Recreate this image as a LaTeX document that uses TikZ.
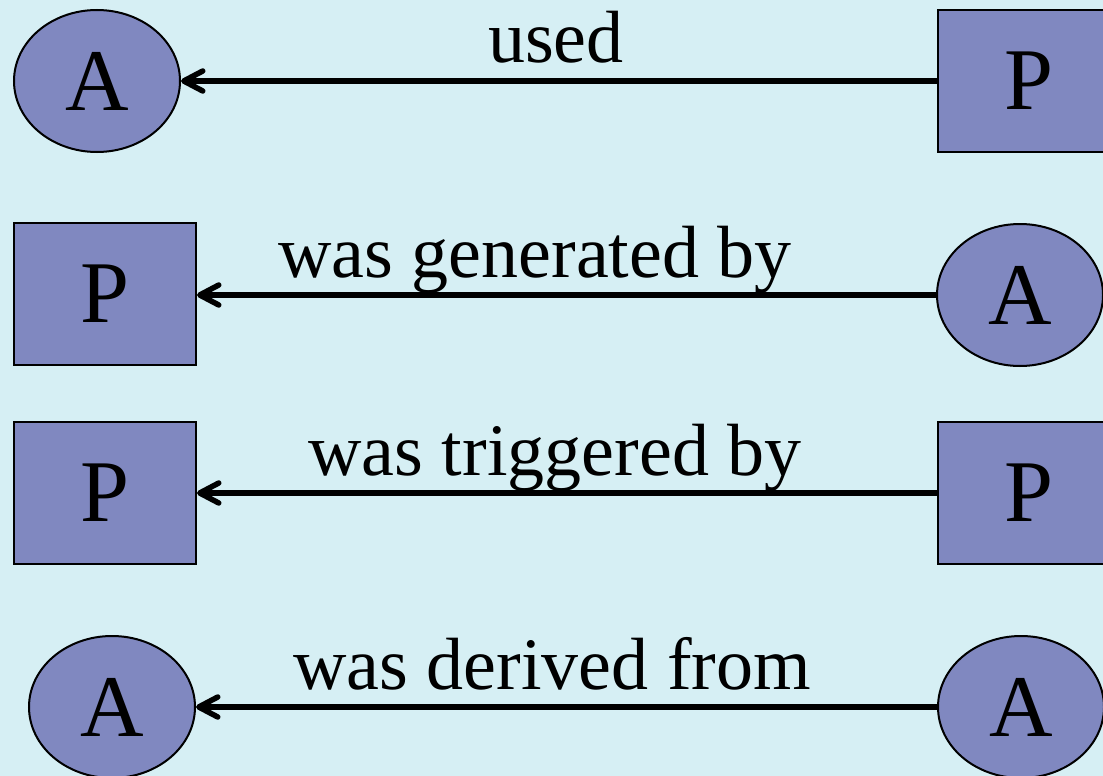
\documentclass[tikz,border=0pt]{standalone}
\usepackage{fontspec}
\setmainfont{Liberation Serif}
\usetikzlibrary{shapes.geometric,arrows.meta}
\definecolor{bgcyan}{RGB}{214,239,244}
\definecolor{nodefill}{RGB}{128,136,192}
\tikzset{
  artifact/.style={ellipse, draw=black, line width=2pt, fill=nodefill, inner sep=0pt,
    minimum width=166pt, minimum height=142pt, font=\fontsize{88}{88}\selectfont},
  process/.style={rectangle, draw=black, line width=2pt, fill=nodefill, inner sep=0pt,
    minimum width=182pt, minimum height=142pt, font=\fontsize{88}{88}\selectfont},
  rel/.style={draw=black, line width=5.5pt,
    -{Straight Barb[length=19pt, width=20pt, round]}},
  lab/.style={anchor=base, inner sep=0pt, font=\fontsize{74}{74}\selectfont}
}
\begin{document}
\begin{tikzpicture}[x=1pt, y=-1pt]
  \useasboundingbox (0,0) rectangle (1103,776);
  \clip (0,0) rectangle (1103,776);
  \fill[bgcyan] (0,0) rectangle (1103,776);

  % used
  \node[artifact] (a1) at (97,81) {A};
  \node[process]  (p1) at (1029,81) {P};
  \draw[rel] (p1) -- (a1);
  \node[lab] (l1) at (556,63) {used};

  % was generated by
  \node[process]  (p2) at (105,294) {P};
  \node[artifact] (a2) at (1020,295) {A};
  \draw[rel] (a2.west) -- (p2.east |- a2.west);
  \node[lab] (l2) at (535,277) {was generated by};

  % was triggered by
  \node[process] (p3) at (105,493) {P};
  \node[process] (p4) at (1029,493) {P};
  \draw[rel] (p4) -- (p3);
  \node[lab] (l3) at (555,475) {was triggered by};

  % was derived from
  \node[artifact] (a3) at (112,707) {A};
  \node[artifact] (a4) at (1021,707) {A};
  \draw[rel] (a4) -- (a3);
  \node[lab] (l4) at (552,689) {was derived from};
\end{tikzpicture}
\end{document}
